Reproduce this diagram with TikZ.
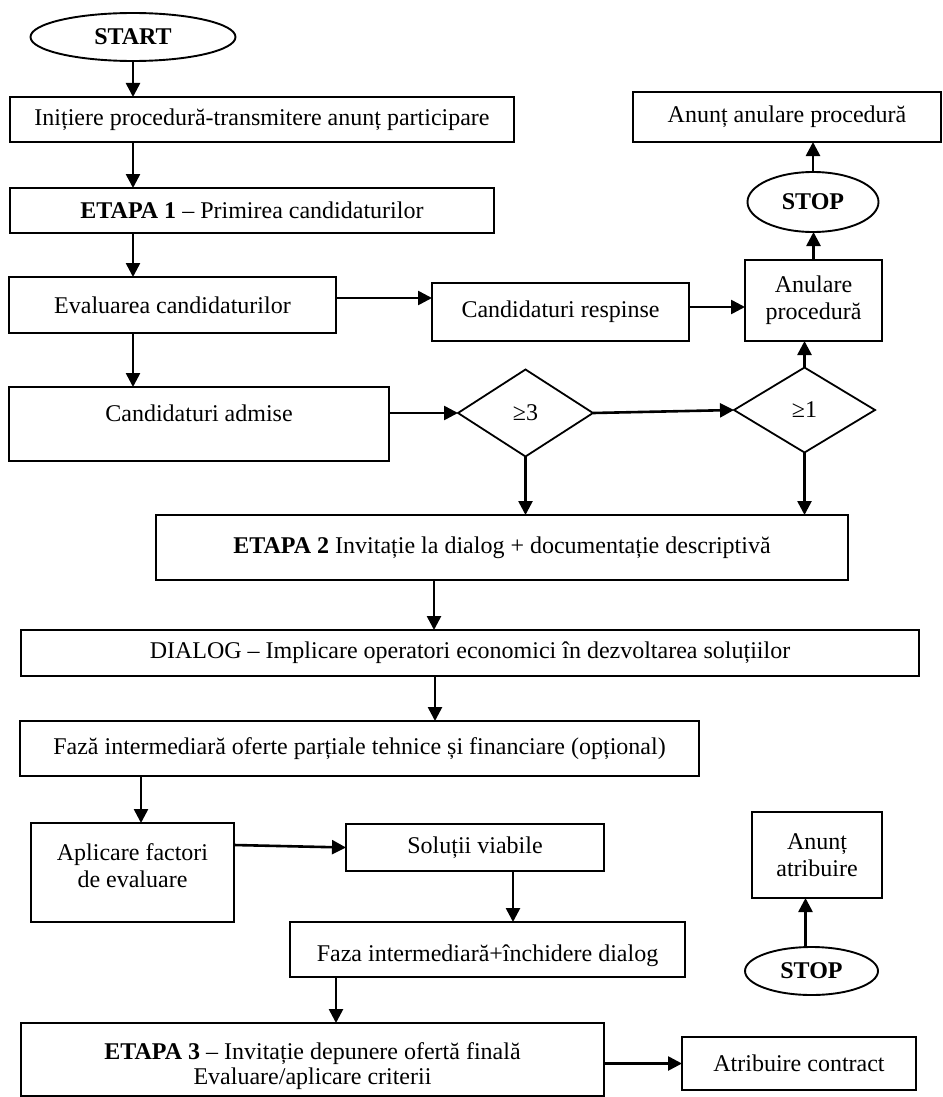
\documentclass[tikz,border=0pt]{standalone}
\usepackage{fontspec}
\setmainfont{Liberation Serif}
\usetikzlibrary{arrows.meta,shapes.geometric}

\begin{document}
\begin{tikzpicture}[x=1pt,y=-1pt,
  font=\fontsize{24}{27}\selectfont,
  box/.style={draw,line width=1.9pt,rectangle,inner sep=0pt,outer sep=0pt,align=center},
  term/.style={draw,line width=1.9pt,ellipse,inner sep=0pt,outer sep=0pt,font=\fontsize{24}{27}\selectfont\bfseries},
  decide/.style={draw,line width=1.8pt,diamond,inner sep=0pt,outer sep=0pt},
  lbl/.style={inner sep=0pt,align=center},
  arr/.style={line width=2.6pt,-{Triangle[length=14pt,width=14pt]}},
]
\useasboundingbox (0,0) rectangle (942,1097);

% --- stage 1 column ---
\node[term,minimum width=205pt,minimum height=48pt] (start) at (133,37) {START};
\node[box,minimum width=504pt,minimum height=45pt] (init) at (262,119.5)
  {Inițiere procedură-transmitere anunț participare};
\node[box,minimum width=484pt,minimum height=45pt] (et1) at (252,210.5)
  {\textbf{ETAPA 1} – Primirea candidaturilor};
\node[box,minimum width=327pt,minimum height=56pt] (eval) at (172.5,305)
  {Evaluarea candidaturilor};
\node[box,minimum width=380pt,minimum height=74pt] (adm) at (199,424) {};
\node[lbl] (admt) at (199,413) {Candidaturi admise};

% --- rejection branch ---
\node[box,minimum width=257pt,minimum height=58pt] (resp) at (560.5,312)
  {Candidaturi respinse};
\node[box,minimum width=137pt,minimum height=81pt] (anul) at (813.5,300.5)
  {Anulare\\procedură};
\node[term,minimum width=131pt,minimum height=60pt] (stop1) at (813,202) {STOP};
\node[box,minimum width=308pt,minimum height=50pt] (anunt1) at (787,117)
  {Anunț anulare procedură};

% --- decisions ---
\node[decide,minimum width=135pt,minimum height=87pt] (d3) at (525.5,413) {≥3};
\node[decide,minimum width=141pt,minimum height=85pt] (d1) at (804.5,410) {≥1};

% --- stage 2 ---
\node[box,minimum width=692pt,minimum height=65pt] (et2) at (502,547.5)
  {\textbf{ETAPA 2} Invitație la dialog + documentație descriptivă};
\node[box,minimum width=898pt,minimum height=46pt] (dial) at (470,653)
  {DIALOG – Implicare operatori economici în dezvoltarea soluțiilor};
\node[box,minimum width=679pt,minimum height=55pt] (faza1) at (359.5,748.5)
  {Fază intermediară oferte parțiale tehnice și financiare (opțional)};
\node[box,minimum width=203pt,minimum height=99pt] (apl) at (132.5,872.5) {};
\node[lbl] (aplt) at (132.5,866) {Aplicare factori\\de evaluare};
\node[box,minimum width=258pt,minimum height=47pt] (sol) at (475,847.5)
  {Soluții viabile};
\node[box,minimum width=395pt,minimum height=55pt] (faza2) at (487.5,949.5) {};
\node[lbl] (faza2t) at (487.5,956) {Faza intermediară+închidere dialog};

% --- stage 3 ---
\node[box,minimum width=583pt,minimum height=73pt] (et3) at (312.5,1059.5) {};
\node[lbl,font=\fontsize{24}{25}\selectfont] (et3t) at (312.5,1066)
  {\textbf{ETAPA 3} – Invitație depunere ofertă finală\\Evaluare/aplicare criterii};
\node[box,minimum width=234pt,minimum height=53pt] (atr) at (799,1063.5)
  {Atribuire contract};
\node[term,minimum width=133pt,minimum height=48pt] (stop2) at (811.5,971) {STOP};
\node[box,minimum width=130pt,minimum height=86pt] (anunt2) at (817,855)
  {Anunț\\atribuire};

% --- connectors ---
\draw[arr] (start.south) -- (start.south |- init.north);
\draw[arr] (start.south |- init.south) -- (start.south |- et1.north);
\draw[arr] (start.south |- et1.south) -- (start.south |- eval.north);
\draw[arr] (start.south |- eval.south) -- (start.south |- adm.north);

\draw[arr] ([yshift=7pt]eval.east) -- ([yshift=7pt]eval.east -| resp.west);
\draw[arr] ([yshift=5pt]resp.east) -- ([yshift=5pt]resp.east -| anul.west);
\draw[arr] (anul.north) -- (anul.north |- stop1.south);
\draw[arr] (stop1.north) -- (stop1.north |- anunt1.south);

\draw[arr] ([yshift=11pt]adm.east) -- (d3.west);
\draw[arr] (d3.east) -- (d1.west);
\draw[arr] (d1.north) -- (d1.north |- anul.south);
\draw[arr] (d3.south) -- (d3.south |- et2.north);
\draw[arr] (d1.south) -- (d1.south |- et2.north);

\draw[arr] ([xshift=-68pt]et2.south) -- ([xshift=-68pt]et2.south |- dial.north);
\draw[arr] ([xshift=-35pt]dial.south) -- ([xshift=-35pt]dial.south |- faza1.north);
\draw[arr] ([xshift=8.5pt]apl.north |- faza1.south) -- ([xshift=8.5pt]apl.north);
\draw[arr] ([yshift=27.5pt]apl.east) -- (sol.west);
\draw[arr] ([xshift=38pt]sol.south) -- ([xshift=38pt]sol.south |- faza2.north);
\draw[arr] ([xshift=23.5pt]et3.north |- faza2.south) -- ([xshift=23.5pt]et3.north);
\draw[arr] (et3.east |- atr.west) -- (atr.west);
\draw[arr] ([xshift=-6pt]stop2.north) -- ([xshift=-6pt]stop2.north |- anunt2.south);
\end{tikzpicture}
\end{document}
